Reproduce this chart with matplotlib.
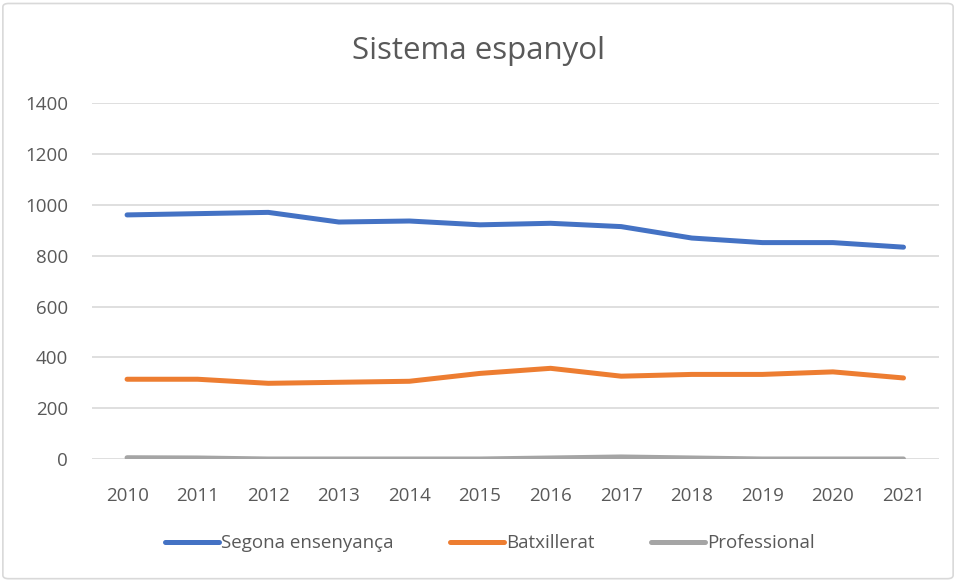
import matplotlib.pyplot as plt
from matplotlib.patches import FancyBboxPatch

years = ['2010', '2011', '2012', '2013', '2014', '2015', '2016', '2017', '2018', '2019', '2020', '2021']
segona = [961, 966, 971, 933, 937, 922, 928, 915, 870, 852, 852, 834]
batxillerat = [314, 314, 298, 302, 306, 337, 357, 326, 333, 333, 343, 319]
professional = [5, 4, 0, 0, 0, 0, 4, 8, 4, 0, 0, 0]

plt.rcParams['font.family'] = ['Open Sans', 'DejaVu Sans']
text_col = '#595959'

fig = plt.figure(figsize=(9.56, 5.81), dpi=100)
ax = fig.add_axes([0.096, 0.21, 0.886, 0.612])

x = range(len(years))
ax.plot(x, segona, color='#4472C4', lw=3.6, solid_capstyle='round', label='Segona ensenyança')
ax.plot(x, batxillerat, color='#ED7D31', lw=3.6, solid_capstyle='round', label='Batxillerat')
ax.plot(x, professional, color='#A5A5A5', lw=3.6, solid_capstyle='round', label='Professional')

ax.set_ylim(0, 1400)
ax.set_yticks(range(0, 1401, 200))
ax.set_xlim(-0.5, len(years) - 0.5)
ax.set_xticks(list(x))
ax.set_xticklabels(years)
ax.grid(axis='y', color='#D9D9D9', lw=1.2)
ax.set_axisbelow(True)
for s in ax.spines.values():
    s.set_visible(False)
ax.tick_params(length=0, labelsize=13.5, colors=text_col)
ax.tick_params(axis='x', pad=20)
ax.tick_params(axis='y', pad=17)

fig.text(0.5, 0.912, 'Sistema espanyol', ha='center', va='center', fontsize=22.5, color=text_col)

fig.legend(loc='center', bbox_to_anchor=(0.512, 0.065), ncol=3, frameon=False,
           fontsize=13.5, labelcolor=text_col, handlelength=2.9, handletextpad=0.1,
           columnspacing=3.0)

fig.patches.append(FancyBboxPatch((0.003, 0.004), 0.994, 0.99, boxstyle='round,pad=0,rounding_size=0.006',
                                  transform=fig.transFigure, fill=False, edgecolor='#D9D9D9', lw=1.2))

fig.savefig('out.png', dpi=100, facecolor='white')
